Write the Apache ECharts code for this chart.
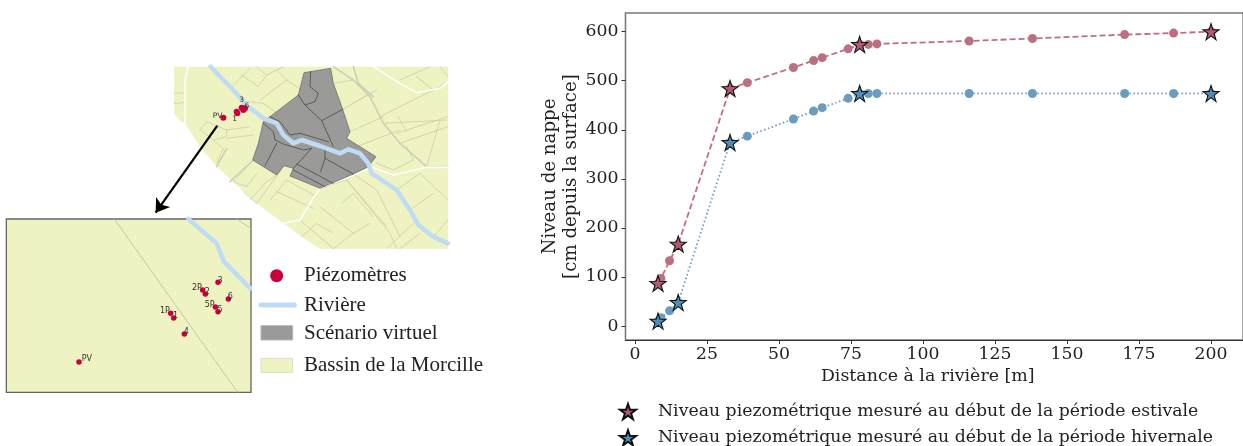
<!DOCTYPE html>
<html><head><meta charset="utf-8">
<style>html,body{margin:0;padding:0;background:#fff}#c{width:1243px;height:446px}</style>
<script src="https://cdn.jsdelivr.net/npm/echarts@6/dist/echarts.min.js"></script>
</head><body><div id="c"></div>
<script>
// ---- chart data ----
const distance  = [8,9,12,15,33,39,55,62,65,74,78,81,84,116,138,170,187,200];
const summer    = [87,97,133,167,484,496,527,541,547,565,574,574,575,581,586,594,597,600];
const winter    = [10,17,31,48,374,387,422,438,445,464,474,474,474,474,474,474,474,474];
const starDistances = [8,15,33,78,200];
const xTicks = [0,25,50,75,100,125,150,175,200];
const yTicks = [0,100,200,300,400,500,600];
const summerName = 'Niveau piezométrique mesuré au début de la période estivale';
const winterName = 'Niveau piezométrique mesuré au début de la période hivernale';

// ---- map data (map units) ----
const basin = [[522,20],[1344,20],[1344,566],[960,566],[905,530],[850,490],[770,430],[700,365],[650,320],[600,260],[555,190],[540,182],[522,160]];
const scenario = [[912,38],[992,25],[1000,70],[1020,125],[1028,148],[1050,215],[1040,235],[1128,290],[1105,320],[1060,342],[960,385],[870,348],[880,325],[852,317],[830,345],[758,300],[775,250],[790,185],[810,170],[895,105]];
const scenarioLines = [
 [[932,35],[930,80],[955,100],[945,125],[915,135],[895,105]],
 [[915,135],[965,182],[1028,148]],[[965,182],[1000,260]],
 [[810,170],[840,185],[870,225],[900,220],[985,245]],
 [[790,190],[820,215],[825,240],[850,252],[910,270],[935,265]],
 [[830,250],[795,318]],[[935,265],[880,325]],
 [[975,270],[975,295],[962,335]],[[975,295],[1060,342]],
 [[890,312],[1000,370]],[[880,330],[975,380]]];
const parcels = [
 [[522,100],[555,98]],[[522,130],[552,128]],[[700,75],[750,25]],[[725,45],[775,80],[800,45],[770,20]],
 [[800,45],[850,20]],[[780,120],[860,60],[905,90]],[[860,60],[830,30]],[[745,125],[790,130],[840,165]],
 [[600,210],[620,185],[680,210],[680,230],[640,240],[600,210]],[[680,210],[750,200]],[[640,240],[670,265],[650,310]],
 [[680,235],[760,225]],[[700,365],[760,300]],[[700,365],[740,380],[770,340]],[[730,395],[770,430]],
 [[750,420],[800,365],[830,345]],[[770,430],[850,320]],[[810,420],[860,360],[950,410]],[[830,395],[940,445]],
 [[960,385],[1040,360],[1130,470],[1170,520],[1190,566]],[[1040,360],[1160,500]],[[1060,342],[1130,390],[1200,530]],
 [[960,440],[1060,520],[1110,490]],[[1025,430],[1060,400],[1120,470]],[[900,480],[1000,566]],
 [[905,530],[950,490],[1000,520]],[[1060,520],[1000,566]],[[1160,566],[1240,490]],[[1230,450],[1300,400]],
 [[1190,390],[1260,340]],[[1120,340],[1190,390]],[[1260,520],[1200,566]],[[1300,530],[1344,480]],[[1260,340],[1344,420]],
 [[1050,215],[1150,170]],[[1028,148],[1130,90]],[[1000,70],[1060,60]],[[1070,260],[1200,210]],[[1150,190],[1340,180]],
 [[1190,220],[1344,170]],[[1140,170],[1300,90]],[[1220,260],[1240,300],[1180,330],[1130,310]],[[1200,250],[1344,200]],
 [[1250,50],[1300,90],[1344,65]],[[1200,60],[1290,20]],[[1320,20],[1344,50]],[[1060,130],[1110,100]],[[1195,170],[1220,215]],[[1280,320],[1320,180]]];
const grayRoads = [[[1000,20],[1060,60],[1110,110],[1150,190],[1200,250],[1280,320],[1344,322]],[[1060,20],[1075,70],[1120,110]],[[650,320],[680,265]],[[690,365],[760,300]]];
const whiteRoads = [[[565,20],[555,60],[555,190]],[[1120,20],[1200,70],[1250,98],[1320,85],[1344,65]],[[850,490],[900,480],[930,430],[960,385],[1105,328]],[[1110,320],[1180,345],[1280,322],[1344,322]],[[775,450],[815,468]]];
const river = [[632,20],[660,50],[700,90],[745,140],[790,175],[830,190],[850,225],[880,250],[905,240],[960,258],[1020,280],[1045,268],[1080,280],[1105,310],[1115,340],[1190,390],[1230,450],[1255,495],[1300,530],[1344,550]];
const topWells = [[670,173,'PV','l'],[710,155,'1','bl'],[712,160,'',''],[725,143,'3','t'],[730,150,'',''],[735,145,'6','tr']];
const inset = [[19,477],[753,477],[753,997],[19,997]];
const insetRoad = [[[343,477],[713,997]],[[710,477],[753,505]]];
const insetRiver = [[565,477],[650,550],[672,605],[751,685]];
const insetWells = [[237,906,'PV','r'],[512,760,'1P','l'],[521,774,'1','tr'],[553,822,'4','tr'],[608,690,'2P','l'],[616,702,'2','tr'],[654,667,'3','tr'],[685,717,'6','tr'],[646,741,'5P','l'],[654,755,'5','tr']];
const arrowLine = [[652,197],[467,458]];
const keyLabels = [[912,647,'Piézomètres'],[912,737,'Rivière'],[912,820,'Scénario virtuel'],[912,916,'Bassin de la Morcille']];
const keyWell = [[830,647]];
const keyRiver = [[783,735],[883,735]];
const keyScenario = [[783,797],[878,797],[878,840],[783,840]];
const keyBasin = [[783,895],[878,895],[878,937],[783,937]];

// ---- helpers ----
const STAR='path://M50 0 L61.8 35.5 L100 36.3 L69.1 58.6 L80.9 95 L50 72.5 L19.1 95 L30.9 58.6 L0 36.3 L38.2 35.5 Z';
const pickStars = (ys)=>distance.map((d,i)=>[d,ys[i]]).filter(p=>starDistances.includes(p[0]));
const mapAxes={xAxisIndex:1,yAxisIndex:1};
function poly(pts,fill,stroke,lw,z){
  return {type:'custom',...mapAxes,coordinateSystem:'cartesian2d',silent:true,clip:false,z,data:[[pts[0][0],pts[0][1]]],
    renderItem:(p,api)=>({type:'polygon',shape:{points:pts.map(q=>api.coord(q))},style:{fill,stroke,lineWidth:lw}})};
}
function paths(list,color,width,z){
  return {type:'lines',...mapAxes,coordinateSystem:'cartesian2d',polyline:true,silent:true,z,
    lineStyle:{color,width,opacity:1,cap:'round',join:'round'},data:list.map(c=>({coords:c}))};
}
const labelPlace={
  l:{position:'left',offset:[3,-2]},
  r:{position:'right',offset:[-1,-3]},
  t:{position:'top',offset:[0,0]},
  tr:{position:'top',offset:[2,6]},
  bl:{position:'bottom',offset:[-2,-1]}
};
function wells(list,size,fs,z){
  return {type:'scatter',...mapAxes,silent:true,z,symbolSize:size,itemStyle:{color:'#c8003c',opacity:1},
    data:list.map(w=>({value:[w[0],w[1]],label:{show:!!w[2],formatter:w[2],...(labelPlace[w[3]]||{}),
      distance:1,fontSize:fs,color:'#333',fontFamily:'DejaVu Sans'}}))};
}
const serif='DejaVu Serif';
const option={
  animation:false,backgroundColor:'#fff',
  grid:[{left:625.5,right:-4,top:13,height:327,show:true,borderColor:'#777',borderWidth:1.3,containLabel:false},
        {left:0,top:0,width:1243,height:446,show:false}],
  xAxis:[{type:'value',gridIndex:0,min:-3.3,max:211.1,
          name:'Distance à la rivière [m]',nameLocation:'middle',nameGap:26,
          nameTextStyle:{fontFamily:serif,fontSize:17.4,color:'#222',padding:[0,13,0,0]},
          splitLine:{show:false},axisLine:{show:true,onZero:false,lineStyle:{color:'#333',width:1.2}},
          axisTick:{show:true,length:4,customValues:xTicks,lineStyle:{color:'#333'}},
          axisLabel:{customValues:xTicks,showMinLabel:true,showMaxLabel:true,fontFamily:serif,fontSize:17.3,color:'#222',margin:6}},
         {type:'value',gridIndex:1,min:0,max:3729,show:false}],
  yAxis:[{type:'value',gridIndex:0,min:-28.5,max:638,
          name:'Niveau de nappe\n[cm depuis la surface]',nameLocation:'middle',nameGap:44,nameRotate:90,
          nameTextStyle:{fontFamily:serif,fontSize:18.2,color:'#222',lineHeight:21},
          splitLine:{show:false},axisLine:{show:true,onZero:false,lineStyle:{color:'#777',width:1.3}},
          axisTick:{show:true,length:4,customValues:yTicks,lineStyle:{color:'#333'}},
          axisLabel:{customValues:yTicks,fontFamily:serif,fontSize:17.3,color:'#222',margin:7}},
         {type:'value',gridIndex:1,min:-180,max:1158,inverse:true,show:false}],
  legend:{show:true,orient:'vertical',left:619,top:403,height:60,padding:0,itemWidth:16,itemHeight:16,itemGap:9,selectedMode:false,
    textStyle:{fontFamily:serif,fontSize:17.3,color:'#222',lineHeight:16,padding:[0,0,0,17]},
    data:[{name:summerName,icon:STAR},{name:winterName,icon:STAR}]},
  series:[
    poly(basin,'#eff2c1','none',0,1),
    paths(parcels,'#c9c9a4',0.7,2),
    paths(grayRoads,'#cfcfb6',1.6,2),
    paths(whiteRoads,'#ffffff',1.6,3),
    poly(scenario,'#9a9b98','#555',0.6,4),
    paths(scenarioLines,'#4a4a4a',0.8,5),
    paths([river],'#bfdcf6',4.5,6),
    wells(topWells,6,7.5,7),
    {type:'lines',...mapAxes,coordinateSystem:'cartesian2d',silent:true,z:8,symbol:['none','arrow'],symbolSize:[0,13],
      lineStyle:{color:'#000',width:2.2,opacity:1,curveness:0},data:[{coords:arrowLine}]},
    poly(inset,'#eff2c1','#666',1.3,8),
    paths(insetRoad,'#bdbda0',0.8,9),
    paths([insetRiver],'#bfdcf6',4.5,9),
    wells(insetWells,5.5,8,10),
    wells(keyWell.map(p=>[p[0],p[1],'','']),13,6,10),
    paths([keyRiver],'#bfdcf6',5,10),
    poly(keyScenario,'#9a9b98','#b5b5b5',1,10),
    poly(keyBasin,'#eff2c1','#dcdcc8',1,10),
    {type:'scatter',...mapAxes,silent:true,z:10,symbolSize:0,itemStyle:{opacity:1},
      data:keyLabels.map(k=>({value:[k[0],k[1]],label:{show:true,formatter:k[2],position:'right',distance:0,
        fontFamily:'Liberation Serif',fontSize:21,color:'#222'}}))},
    {type:'line',xAxisIndex:0,yAxisIndex:0,z:20,data:distance.map((d,i)=>[d,summer[i]]),symbol:'circle',symbolSize:9,
      lineStyle:{color:'#bd6f82',width:1.8,type:[6,3]},itemStyle:{color:'#bd6f82'}},
    {type:'line',xAxisIndex:0,yAxisIndex:0,z:20,data:distance.map((d,i)=>[d,winter[i]]),symbol:'circle',symbolSize:9,
      lineStyle:{color:'#6a9cc0',width:1.8,type:[1.5,2.5]},itemStyle:{color:'#6a9cc0'}},
    {type:'scatter',name:summerName,xAxisIndex:0,yAxisIndex:0,z:21,data:pickStars(summer),symbol:STAR,symbolSize:16,
      itemStyle:{color:'#b25a70',borderColor:'#111',borderWidth:1.1,opacity:1}},
    {type:'scatter',name:winterName,xAxisIndex:0,yAxisIndex:0,z:21,data:pickStars(winter),symbol:STAR,symbolSize:16,
      itemStyle:{color:'#4f8db8',borderColor:'#111',borderWidth:1.1,opacity:1}}
  ]
};
echarts.init(document.getElementById('c'),null,{renderer:'canvas'}).setOption(option);
</script></body></html>
